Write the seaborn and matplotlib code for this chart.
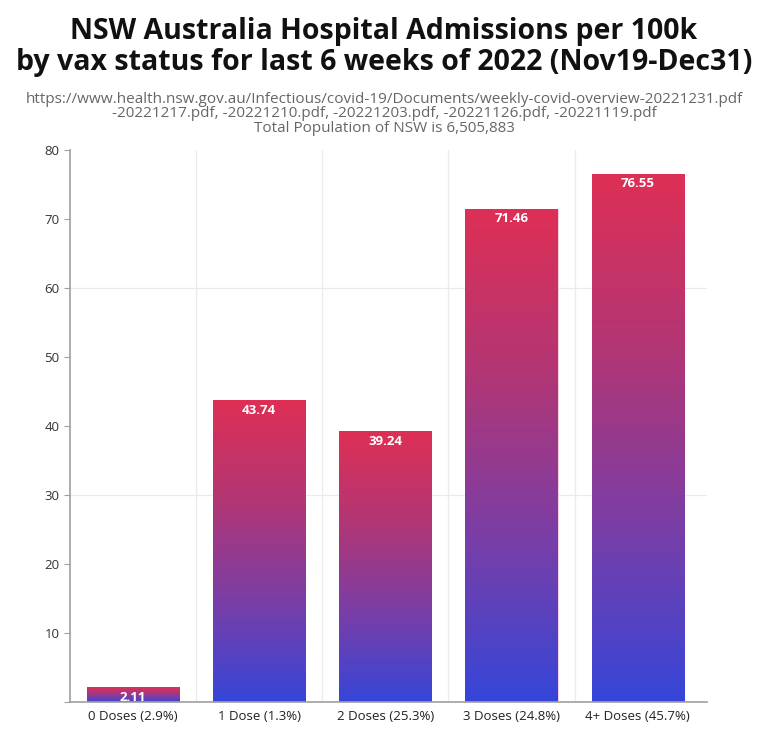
import numpy as np
import pandas as pd
import seaborn as sns
import matplotlib.pyplot as plt
from matplotlib.colors import LinearSegmentedColormap

categories = ['0 Doses (2.9%)', '1 Dose (1.3%)', '2 Doses (25.3%)',
              '3 Doses (24.8%)', '4+ Doses (45.7%)']
admissions = [2.11, 43.74, 39.24, 71.46, 76.55]

title = ('NSW Australia Hospital Admissions per 100k\n'
         'by vax status for last 6 weeks of 2022 (Nov19-Dec31)')
subtitle = ('https://www.health.nsw.gov.au/Infectious/covid-19/Documents/weekly-covid-overview-20221231.pdf\n'
            '-20221217.pdf, -20221210.pdf, -20221203.pdf, -20221126.pdf, -20221119.pdf\n'
            'Total Population of NSW is 6,505,883')


def gradient_bars(ax, cmap):
    grad = np.linspace(0, 1, 256).reshape(-1, 1)
    for patch in ax.patches:
        x0, y0 = patch.get_x(), patch.get_y()
        w, h = patch.get_width(), patch.get_height()
        patch.set_facecolor('none')
        im = ax.imshow(grad, extent=[x0, x0 + w, y0, y0 + h], origin='lower',
                       aspect='auto', cmap=cmap, zorder=2)
        im.set_clip_path(patch)


def main():
    sns.set_style('white')
    plt.rcParams['font.family'] = ['Open Sans', 'DejaVu Sans']

    df = pd.DataFrame({'status': categories, 'value': admissions})
    fig = plt.figure(figsize=(7.68, 7.45), dpi=100)
    ax = fig.add_axes([0.0911, 0.0577, 0.8295, 0.741])

    sns.barplot(data=df, x='status', y='value', ax=ax, width=0.73,
                color='#9a3a8e', edgecolor='#f3c9d6', linewidth=0.6, zorder=2)
    cmap = LinearSegmentedColormap.from_list(
        'vax', ['#3646d9', '#7a3ea6', '#b23675', '#de2f55'])
    gradient_bars(ax, cmap)

    for i, v in enumerate(admissions):
        ax.annotate(f'{v:.2f}', (i, v), xytext=(0, -2.5), textcoords='offset points',
                    ha='center', va='top', color='white', fontsize=9.5,
                    fontweight='bold', zorder=4)

    ax.set_xlim(-0.5, len(categories) - 0.45)
    ax.set_ylim(0, 80)
    ax.set_yticks(range(0, 90, 10))
    ax.set_yticklabels([''] + [str(t) for t in range(10, 90, 10)])
    ax.set_xlabel('')
    ax.set_ylabel('')

    for y in [30, 60]:
        ax.axhline(y, color='#ebebeb', linewidth=0.9, zorder=0)
    for x in np.arange(0.5, len(categories) - 1, 1.0):
        ax.axvline(x, color='#ebebeb', linewidth=0.9, zorder=0)

    for side in ['top', 'right']:
        ax.spines[side].set_visible(False)
    ax.spines['left'].set_color('#a0a0a0')
    ax.spines['left'].set_linewidth(1.2)
    ax.spines['bottom'].set_color('#a0a0a0')
    ax.spines['bottom'].set_linewidth(1.2)
    ax.tick_params(axis='y', length=4, color='#a0a0a0', labelsize=9.5,
                   labelcolor='#333333', left=True)
    ax.tick_params(axis='x', length=0, labelsize=9.5, labelcolor='#222222', pad=6)

    fig.text(0.5, 0.977, title, ha='center', va='top', fontsize=20.5,
             fontweight='bold', color='#111111', linespacing=1.08)
    fig.text(0.5, 0.877, subtitle, ha='center', va='top', fontsize=11,
             color='#666666', linespacing=0.95)

    plt.savefig('out.png', dpi=100)
    plt.close()


if __name__ == '__main__':
    main()
